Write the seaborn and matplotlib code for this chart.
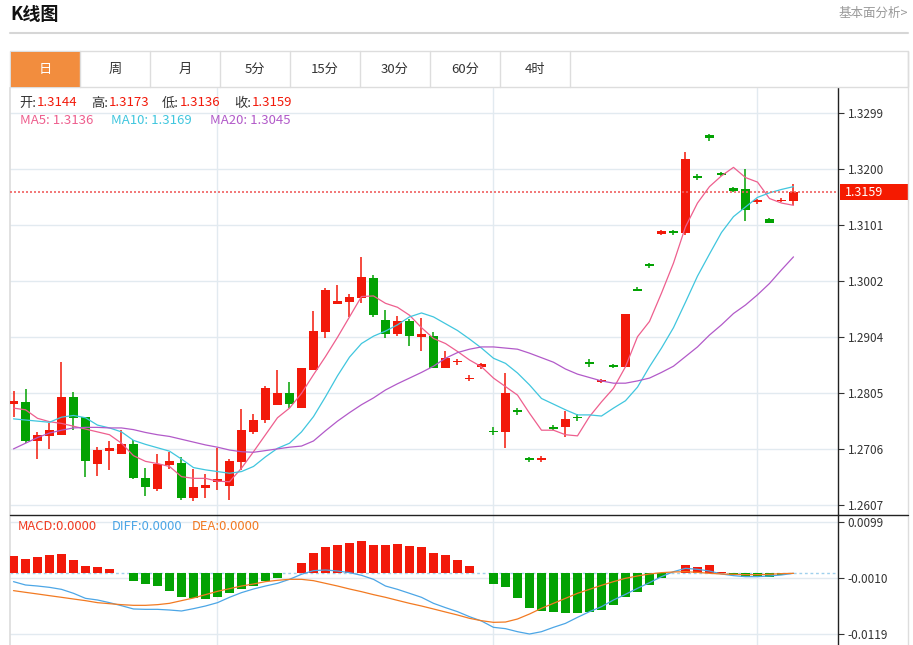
import matplotlib
matplotlib.use('Agg')
import matplotlib.pyplot as plt
import seaborn as sns
import numpy as np
from matplotlib.patches import Rectangle
from matplotlib.lines import Line2D

# ---------------- data ----------------
opens = [1.2785, 1.2788, 1.2720, 1.2728, 1.2730, 1.2797, 1.2762, 1.2680, 1.2703, 1.2697,
         1.2715, 1.2655, 1.2635, 1.2678, 1.2681, 1.2620, 1.2637, 1.2648, 1.2640, 1.2683,
         1.2736, 1.2757, 1.2784, 1.2804, 1.2779, 1.2846, 1.2912, 1.2962, 1.2965, 1.2972,
         1.3008, 1.2934, 1.2909, 1.2932, 1.2904, 1.2905, 1.2848, 1.2859, 1.2829, 1.2850,
         1.2738, 1.2736, 1.2774, 1.2690, 1.2687, 1.2745, 1.2744, 1.2763, 1.2860, 1.2824,
         1.2854, 1.2851, 1.2988, 1.3032, 1.3085, 1.3090, 1.3088, 1.3187, 1.3260, 1.3193,
         1.3166, 1.3165, 1.3141, 1.3112, 1.3143, 1.3144]
highs = [1.2808, 1.2812, 1.2736, 1.2751, 1.2860, 1.2807, 1.2762, 1.2710, 1.2720, 1.2739,
         1.2721, 1.2673, 1.2697, 1.2701, 1.2692, 1.2670, 1.2661, 1.2708, 1.2688, 1.2776,
         1.2768, 1.2817, 1.2845, 1.2824, 1.2848, 1.2949, 1.2990, 1.2995, 1.2980, 1.3045,
         1.3013, 1.2951, 1.2941, 1.2935, 1.2937, 1.2913, 1.2878, 1.2865, 1.2837, 1.2858,
         1.2744, 1.2840, 1.2778, 1.2692, 1.2693, 1.2749, 1.2773, 1.2768, 1.2864, 1.2829,
         1.2856, 1.2945, 1.2992, 1.3035, 1.3092, 1.3092, 1.3231, 1.3191, 1.3262, 1.3195,
         1.3169, 1.3200, 1.3148, 1.3114, 1.3149, 1.3173]
lows = [1.2763, 1.2716, 1.2688, 1.2705, 1.2730, 1.2739, 1.2657, 1.2659, 1.2669, 1.2697,
        1.2653, 1.2622, 1.2631, 1.2670, 1.2616, 1.2614, 1.2620, 1.2634, 1.2616, 1.2669,
        1.2733, 1.2752, 1.2784, 1.2778, 1.2779, 1.2846, 1.2902, 1.2962, 1.2939, 1.2964,
        1.2939, 1.2901, 1.2905, 1.2888, 1.2878, 1.2848, 1.2848, 1.2854, 1.2825, 1.2847,
        1.2731, 1.2707, 1.2765, 1.2683, 1.2683, 1.2739, 1.2727, 1.2756, 1.2851, 1.2823,
        1.2848, 1.2851, 1.2984, 1.3026, 1.3084, 1.3084, 1.3084, 1.3181, 1.3250, 1.3187,
        1.3160, 1.3109, 1.3138, 1.3105, 1.3141, 1.3136]
closes = [1.2791, 1.2720, 1.2730, 1.2739, 1.2797, 1.2760, 1.2685, 1.2704, 1.2708, 1.2715,
          1.2655, 1.2638, 1.2680, 1.2685, 1.2620, 1.2638, 1.2642, 1.2652, 1.2685, 1.2739,
          1.2757, 1.2813, 1.2805, 1.2785, 1.2848, 1.2914, 1.2987, 1.2967, 1.2974, 1.3009,
          1.2942, 1.2909, 1.2932, 1.2906, 1.2908, 1.2849, 1.2866, 1.2861, 1.2832, 1.2856,
          1.2735, 1.2805, 1.2771, 1.2686, 1.2690, 1.2742, 1.2759, 1.2760, 1.2856, 1.2828,
          1.2851, 1.2944, 1.2985, 1.3029, 1.3091, 1.3087, 1.3217, 1.3184, 1.3254, 1.3189,
          1.3162, 1.3127, 1.3145, 1.3105, 1.3146, 1.3159]
ma5 = [1.2778, 1.2775, 1.2760, 1.2754, 1.2751, 1.2746, 1.2741, 1.2736, 1.2731, 1.2716,
       1.2694, 1.2684, 1.2680, 1.2675, 1.2657, 1.2654, 1.2654, 1.2649, 1.2648, 1.2672,
       1.2701, 1.2731, 1.2761, 1.2778, 1.2804, 1.2837, 1.2869, 1.2903, 1.2939, 1.2975,
       1.2976, 1.2963, 1.2956, 1.2942, 1.2920, 1.2901, 1.2892, 1.2878, 1.2863, 1.2851,
       1.2831, 1.2816, 1.2801, 1.2769, 1.2739, 1.2739, 1.2731, 1.2729, 1.2763, 1.2789,
       1.2813, 1.2851, 1.2904, 1.2931, 1.2981, 1.3034, 1.3098, 1.3140, 1.3169, 1.3188,
       1.3203, 1.3185, 1.3177, 1.3148, 1.3140, 1.3136]
ma10 = [1.2759, 1.2757, 1.2755, 1.2753, 1.2762, 1.2765, 1.2761, 1.2748, 1.2743, 1.2736,
        1.2721, 1.2714, 1.2708, 1.2702, 1.2688, 1.2673, 1.2669, 1.2666, 1.2663, 1.2666,
        1.2675, 1.2692, 1.2707, 1.2716, 1.2736, 1.2763, 1.2798, 1.2835, 1.2868, 1.2892,
        1.2905, 1.2914, 1.2925, 1.2939, 1.2946, 1.2939, 1.2927, 1.2915, 1.2900, 1.2884,
        1.2866, 1.2857, 1.2840, 1.2819, 1.2795, 1.2785, 1.2775, 1.2766, 1.2766, 1.2764,
        1.2778, 1.2791, 1.2815, 1.2851, 1.2884, 1.2920, 1.2965, 1.3011, 1.3050, 1.3088,
        1.3116, 1.3133, 1.3150, 1.3158, 1.3164, 1.3169]
ma20 = [1.2706, 1.2716, 1.2726, 1.2734, 1.2739, 1.2743, 1.2744, 1.2744, 1.2743, 1.2743,
        1.2740, 1.2735, 1.2731, 1.2728, 1.2723, 1.2718, 1.2713, 1.2709, 1.2704, 1.2701,
        1.2700, 1.2703, 1.2706, 1.2709, 1.2711, 1.2720, 1.2738, 1.2755, 1.2770, 1.2784,
        1.2796, 1.2810, 1.2821, 1.2831, 1.2841, 1.2852, 1.2866, 1.2876, 1.2882, 1.2886,
        1.2886, 1.2884, 1.2882, 1.2875, 1.2867, 1.2859, 1.2847, 1.2838, 1.2832, 1.2826,
        1.2822, 1.2822, 1.2826, 1.2831, 1.2841, 1.2852, 1.2869, 1.2886, 1.2907, 1.2925,
        1.2945, 1.2960, 1.2978, 1.2998, 1.3022, 1.3045]
macd = [0.00337, 0.00279, 0.00324, 0.00357, 0.00376, 0.00260, 0.00149, 0.00130, 0.00084, 0.0,
        -0.00143, -0.00208, -0.00240, -0.00337, -0.00467, -0.00487, -0.00500, -0.00467, -0.00389, -0.00305,
        -0.00240, -0.00149, -0.00097, 0.0, 0.00201, 0.00389, 0.00519, 0.00558, 0.00597, 0.00629,
        0.00558, 0.00551, 0.00571, 0.00539, 0.00506, 0.00389, 0.00357, 0.00260, 0.00143, 0.00013,
        -0.00208, -0.00272, -0.00487, -0.00681, -0.00727, -0.00746, -0.00779, -0.00779, -0.00746, -0.00714,
        -0.00616, -0.00467, -0.00357, -0.00227, -0.00097, 0.0, 0.00162, 0.00130, 0.00162, 0.00032,
        -0.00032, -0.00065, -0.00045, -0.00078, -0.00026, 0.0]
diff = [-0.00162, -0.00227, -0.00247, -0.00273, -0.00312, -0.00389, -0.00487, -0.00519, -0.00571, -0.00630,
        -0.00694, -0.00701, -0.00701, -0.00714, -0.00733, -0.00688, -0.00636, -0.00571, -0.00467, -0.00376,
        -0.00305, -0.00247, -0.00195, -0.00117, -0.00019, 0.00052, 0.00065, 0.00045, 0.00013, -0.00039,
        -0.00117, -0.00247, -0.00312, -0.00389, -0.00467, -0.00584, -0.00668, -0.00746, -0.00844, -0.00928,
        -0.01051, -0.01077, -0.01136, -0.01181, -0.01136, -0.01051, -0.00974, -0.00857, -0.00746, -0.00649,
        -0.00519, -0.00409, -0.00292, -0.00182, -0.00065, 0.00032, 0.00097, 0.00078, 0.00045, -0.00013,
        -0.00045, -0.00065, -0.00065, -0.00052, -0.00032, 0.0]
dea = [-0.00337, -0.00370, -0.00402, -0.00435, -0.00467, -0.00500, -0.00532, -0.00571, -0.00591, -0.00610,
       -0.00623, -0.00623, -0.00610, -0.00584, -0.00532, -0.00480, -0.00415, -0.00350, -0.00299, -0.00247,
       -0.00208, -0.00162, -0.00136, -0.00117, -0.00117, -0.00143, -0.00195, -0.00247, -0.00305, -0.00357,
       -0.00415, -0.00467, -0.00526, -0.00584, -0.00636, -0.00694, -0.00753, -0.00811, -0.00876, -0.00922,
       -0.00954, -0.00948, -0.00889, -0.00792, -0.00681, -0.00584, -0.00487, -0.00389, -0.00312, -0.00234,
       -0.00162, -0.00097, -0.00052, -0.00013, 0.00013, 0.00026, 0.00032, 0.00019, 0.0, -0.00013,
       -0.00019, -0.00026, -0.00026, -0.00019, -0.00006, 0.0]
price_ticks = [1.2607, 1.2706, 1.2805, 1.2904, 1.3002, 1.3101, 1.3200, 1.3299]
macd_ticks = [0.0099, -0.0010, -0.0119]
macd_tick_labels = ['0.0099', '-0.0010', '-0.0119']
month_starts = [17, 40, 62]
tabs = ['日', '周', '月', '5分', '15分', '30分', '60分', '4时']
last_price = closes[-1]

# ---------------- style ----------------
sns.set_theme(style='white')
plt.rcParams['font.family'] = ['Noto Sans CJK SC', 'DejaVu Sans']
plt.rcParams['axes.unicode_minus'] = False

RED = '#F2190A'
GREEN = '#03A203'
C_MA5 = '#EE5F8E'
C_MA10 = '#40C6DE'
C_MA20 = '#B25AC9'
C_DIFF = '#4CA6E6'
C_DEA = '#F27A22'
GRID = '#E2EAF0'
DARK = '#333333'

W, H = 913, 645
fig = plt.figure(figsize=(W / 100, H / 100), dpi=100)
fig.patch.set_facecolor('white')


def fx(px):
    return px / W


def fy(py):
    return 1 - py / H


def frect(x0, y0, x1, y1, **kw):
    fig.add_artist(Rectangle((fx(x0), fy(y1)), (x1 - x0) / W, (y1 - y0) / H,
                             transform=fig.transFigure, **kw))


def fline(xs, ys, **kw):
    fig.add_artist(Line2D([fx(v) for v in xs], [fy(v) for v in ys],
                          transform=fig.transFigure, **kw))


ax = fig.add_axes([fx(10), fy(515), fx(838) - fx(10), fy(88) - fy(515)])
axm = fig.add_axes([fx(10), fy(645), fx(838) - fx(10), fy(515) - fy(645)])

idx = np.arange(len(opens))
o = np.array(opens); c = np.array(closes); hi = np.array(highs); lo = np.array(lows)
up = c >= o
cols = np.where(up, RED, GREEN)

# ---------------- main panel ----------------
for t in price_ticks:
    ax.axhline(t, color=GRID, lw=1, zorder=0)
for m in month_starts:
    ax.axvline(m, color=GRID, lw=1, zorder=0)

ax.vlines(idx, lo, hi, colors=cols, lw=1.1, zorder=3)
ax.bar(idx, np.maximum(np.abs(c - o), 0.00028), bottom=np.minimum(o, c),
       width=0.74, color=cols, linewidth=0, zorder=4)

sns.lineplot(x=idx, y=ma5, ax=ax, color=C_MA5, lw=0.9, zorder=5)
sns.lineplot(x=idx, y=ma10, ax=ax, color=C_MA10, lw=0.9, zorder=5)
sns.lineplot(x=idx, y=ma20, ax=ax, color=C_MA20, lw=0.9, zorder=5)

ax.axhline(last_price, color='#F06060', lw=1.2, ls=(0, (1.2, 1.2)), zorder=6)

ax.set_xlim(-0.2917, 68.71)
ax.set_ylim(1.25893, 1.33431)
ax.yaxis.tick_right()
ax.set_yticks(price_ticks)
ax.set_yticklabels([f'{t:.4f}' for t in price_ticks])
ax.set_xticks([])
ax.tick_params(axis='y', right=True, length=4, width=0.8, color=DARK,
               labelsize=8.5, labelcolor=DARK, pad=3, direction='out')
for s in ['top', 'bottom']:
    ax.spines[s].set_visible(False)
ax.spines['left'].set_color('#DDDDDD')
ax.spines['right'].set_color('#222222')
ax.spines['right'].set_linewidth(1)
ax.set_xlabel(''); ax.set_ylabel('')

# ---------------- MACD panel ----------------
mc = np.array(macd)
for t in macd_ticks:
    axm.axhline(t, color=GRID, lw=1, zorder=0)
for m in month_starts:
    axm.axvline(m, color=GRID, lw=1, zorder=0)
axm.bar(idx, mc, width=0.76, color=np.where(mc >= 0, RED, GREEN), linewidth=0, zorder=3)
axm.axhline(0, color='#9FD0EC', lw=1, ls=(0, (2, 2)), zorder=2)
sns.lineplot(x=idx, y=diff, ax=axm, color=C_DIFF, lw=0.9, zorder=5)
sns.lineplot(x=idx, y=dea, ax=axm, color=C_DEA, lw=0.9, zorder=5)
axm.set_xlim(-0.2917, 68.71)
axm.set_ylim(-0.01395, 0.01135)
axm.yaxis.tick_right()
axm.set_yticks(macd_ticks)
axm.set_yticklabels(macd_tick_labels)
axm.set_xticks([])
axm.tick_params(axis='y', right=True, length=4, width=0.8, color=DARK,
                labelsize=8.5, labelcolor=DARK, pad=3, direction='out')
for s in ['top', 'bottom']:
    axm.spines[s].set_visible(False)
axm.spines['left'].set_color('#DDDDDD')
axm.spines['right'].set_color('#222222')
axm.spines['right'].set_linewidth(1)
axm.set_xlabel(''); axm.set_ylabel('')

# ---------------- page furniture ----------------
fig.text(fx(10), fy(14), 'K线图', fontsize=13, fontweight='bold', color='#111111',
         ha='left', va='center')
fig.text(fx(908), fy(13), '基本面分析>', fontsize=9, color='#999999', ha='right', va='center')
fline([10, 908], [33, 33], color='#D6D6D6', lw=1.5)

# tabs row
frect(10, 51, 908, 87, facecolor='white', edgecolor='#DDDDDD', lw=1)
frect(10.5, 51.5, 80, 86.5, facecolor='#F28D3E', edgecolor='none')
for k in range(1, len(tabs) + 1):
    xs = 10 + 70 * k
    fline([xs, xs], [51, 87], color='#DDDDDD', lw=1)
for k, t in enumerate(tabs):
    fig.text(fx(45 + 70 * k), fy(69), t, fontsize=9.5,
             color='white' if k == 0 else DARK, ha='center', va='center')

# frame borders
fline([908, 908], [51, 645], color='#DDDDDD', lw=1)
fline([10, 908], [515, 515], color='#222222', lw=1)

# info lines
info = [('开:', 19, DARK), (f'{opens[-1]:.4f}', 37, RED), ('高:', 91, DARK), (f'{highs[-1]:.4f}', 109, RED),
        ('低:', 162, DARK), (f'{lows[-1]:.4f}', 180, RED), ('收:', 234, DARK), (f'{closes[-1]:.4f}', 252, RED)]
for s, x, col in info:
    fig.text(fx(x), fy(103), s, fontsize=9.5, color=col, ha='left', va='center')
for s, x, col in [(f'MA5: {ma5[-1]:.4f}', 20, C_MA5), (f'MA10: {ma10[-1]:.4f}', 111, C_MA10),
                  (f'MA20: {ma20[-1]:.4f}', 210, C_MA20)]:
    fig.text(fx(x), fy(121), s, fontsize=9.5, color=col, ha='left', va='center')
for s, x, col in [('MACD:0.0000', 18, '#F03A22'), ('DIFF:0.0000', 112, C_DIFF), ('DEA:0.0000', 192, C_DEA)]:
    fig.text(fx(x), fy(527), s, fontsize=9.3, color=col, ha='left', va='center')

# current price tag
yp = 113 + (1.3299 - last_price) / 0.00017653
frect(840, yp - 8, 908, yp + 8, facecolor='#F51A00', edgecolor='none')
fig.text(fx(845), fy(yp), f'{last_price:.4f}', fontsize=9, color='white', ha='left', va='center')

fig.savefig('out.png', dpi=100, facecolor='white')
